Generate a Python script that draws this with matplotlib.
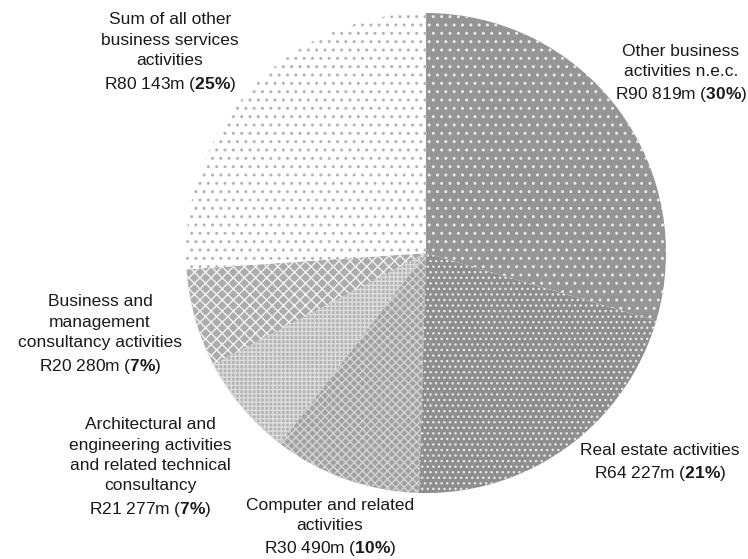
import matplotlib
matplotlib.use("Agg")
import matplotlib.pyplot as plt

plt.rcParams['font.family'] = ['Liberation Sans', 'DejaVu Sans']
plt.rcParams['mathtext.fontset'] = 'custom'
plt.rcParams['mathtext.rm'] = 'Liberation Sans'
plt.rcParams['mathtext.bf'] = 'Liberation Sans:bold'
plt.rcParams['hatch.linewidth'] = 1.0

categories = [
    "Other business\nactivities n.e.c.",
    "Real estate activities",
    "Computer and related\nactivities",
    "Architectural and\nengineering activities\nand related technical\nconsultancy",
    "Business and\nmanagement\nconsultancy activities",
    "Sum of all other\nbusiness services\nactivities",
]
values_m = [90819, 64227, 30490, 21277, 20280, 80143]
value_labels = ["R90 819m", "R64 227m", "R30 490m", "R21 277m", "R20 280m", "R80 143m"]
pct_labels = ["30", "21", "10", "7", "7", "25"]

face_colors = ["#959595", "#8e8e8e", "#a2a2a2", "#b4b4b4", "#acacac", "#ffffff"]
hatch_colors = ["#e8e8e8", "#e6e6e6", "#d4d4d4", "#dcdcdc", "#f2f2f2", "#b4b4b4"]
hatches = ["..", "...", "xxxx", "++++", "xxx", ".."]

W, H = 748, 559
fig = plt.figure(figsize=(W / 100, H / 100), dpi=100)
cx, cy, r = 426, 253, 240
ax = fig.add_axes([(cx - r) / W, (H - cy - r) / H, 2 * r / W, 2 * r / H])
wedges, _ = ax.pie(values_m, startangle=90, counterclock=False, radius=1)
for w, fc, hc, h in zip(wedges, face_colors, hatch_colors, hatches):
    w.set_facecolor(fc)
    w.set_edgecolor(hc)
    w.set_linewidth(0)
    w.set_hatch(h)
ax.set_xlim(-1, 1)
ax.set_ylim(-1, 1)
ax.axis('off')

label_pos = [(681, 74), (660, 463), (330, 528), (150, 468), (100, 335), (170, 53)]
for cat, vl, pc, (x, y) in zip(categories, value_labels, pct_labels, label_pos):
    txt = cat + "\n" + vl + " (" + r"$\mathbf{" + pc + r"\%}$" + ")"
    fig.text(x / W, 1 - y / H, txt, ha='center', va='center', fontsize=12.5,
             color='#1a1a1a', linespacing=1.45)

fig.savefig("out.png", dpi=100)
